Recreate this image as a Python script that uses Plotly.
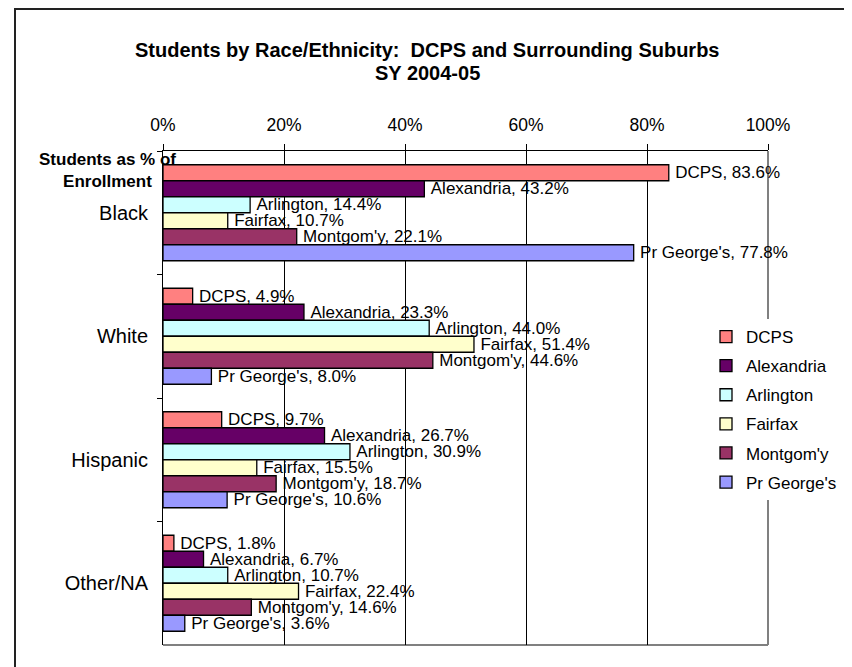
import plotly.graph_objects as go

categories = ["Black", "White", "Hispanic", "Other/NA"]
series_names = ["DCPS", "Alexandria", "Arlington", "Fairfax", "Montgom'y", "Pr George's"]
dcps = [83.6, 4.9, 9.7, 1.8]
alexandria = [43.2, 23.3, 26.7, 6.7]
arlington = [14.4, 44.0, 30.9, 10.7]
fairfax = [10.7, 51.4, 15.5, 22.4]
montgomery = [22.1, 44.6, 18.7, 14.6]
pr_georges = [77.8, 8.0, 10.6, 3.6]
x_ticks = [0, 20, 40, 60, 80, 100]
x_tick_labels = ["0%", "20%", "40%", "60%", "80%", "100%"]

series_values = [dcps, alexandria, arlington, fairfax, montgomery, pr_georges]
colors = ["#FF8080", "#660066", "#CCFFFF", "#FFFFCC", "#993366", "#9999FF"]

FONT = "Arial, Liberation Sans, sans-serif"

fig = go.Figure()
for name, vals, col in zip(series_names, series_values, colors):
    fig.add_trace(go.Bar(
        y=categories, x=vals, name=name, orientation="h",
        marker=dict(color=col, line=dict(color="black", width=1.3)),
        text=[f"\u2009{name}, {v:.1f}%" for v in vals],
        textposition="outside", constraintext="none", cliponaxis=False,
        textfont=dict(family=FONT, size=17, color="black"),
        legendgroup=name,
        hoverinfo="skip",
    ))

OFF = 8  # page body margin
W, H = 852 - OFF, 667 - OFF
# plot-area edges in page pixels
L, R, T, B = 163, 768, 151, 645

def px(xp):
    return (xp - L) / (R - L)

def py(yp):
    return (B - yp) / (B - T)

fig.update_layout(
    width=W, height=H, autosize=False,
    margin=dict(l=L - OFF, r=852 - R, t=T - OFF, b=667 - B, pad=0, autoexpand=False),
    paper_bgcolor="white", plot_bgcolor="white",
    barmode="group", bargap=0.223, bargroupgap=0,
    font=dict(family=FONT, color="black"),
    xaxis=dict(
        side="top", range=[0, 100], tickvals=x_ticks, ticktext=x_tick_labels,
        showgrid=True, gridcolor="black", gridwidth=1,
        showline=True, linecolor="black", linewidth=1,
        ticks="outside", ticklen=6, tickcolor="black",
        tickfont=dict(family=FONT, size=17.5, color="black"),
        ticklabelstandoff=6, zeroline=False, fixedrange=True, automargin=False,
    ),
    yaxis=dict(
        autorange="reversed", type="category",
        showline=True, linecolor="black", linewidth=1,
        ticks="outside", ticklen=5, tickcolor="black", tickson="boundaries",
        tickfont=dict(family=FONT, size=20, color="black"),
        ticklabelstandoff=10, showgrid=False, fixedrange=True, automargin=False,
    ),
    legend=dict(
        x=px(706), y=py(319), xanchor="left", yanchor="top",
        bgcolor="white", borderwidth=0, traceorder="grouped",
        tracegroupgap=4,
        font=dict(family=FONT, size=17, color="black"),
    ),
    annotations=[
        dict(text="<b>Students by Race/Ethnicity: \u00a0DCPS and Surrounding Suburbs</b>",
             xref="paper", yref="paper", x=px(427), y=py(50),
             xanchor="center", yanchor="middle", showarrow=False,
             font=dict(family=FONT, size=20, color="black")),
        dict(text="<b>SY 2004-05</b>",
             xref="paper", yref="paper", x=px(427), y=py(73),
             xanchor="center", yanchor="middle", showarrow=False,
             font=dict(family=FONT, size=20, color="black")),
        dict(text="<b>Students as % of<br>Enrollment</b>", xref="paper", yref="paper",
             x=px(107), y=py(170), xanchor="center", yanchor="middle",
             showarrow=False, align="center",
             font=dict(family=FONT, size=17, color="black")),
    ],
    shapes=[
        dict(type="line", xref="paper", yref="paper", x0=1, x1=1, y0=0, y1=1,
             line=dict(color="#808080", width=2), layer="between"),
        dict(type="line", xref="paper", yref="paper", x0=0, x1=1, y0=0, y1=0,
             line=dict(color="#808080", width=2), layer="between"),
        dict(type="line", xref="paper", yref="paper", x0=px(15), x1=px(15),
             y0=py(8), y1=py(700), line=dict(color="#222222", width=2)),
        dict(type="line", xref="paper", yref="paper", x0=px(15), x1=px(900),
             y0=py(9), y1=py(9), line=dict(color="#222222", width=2)),
    ],
)

fig.write_html("out.html")
